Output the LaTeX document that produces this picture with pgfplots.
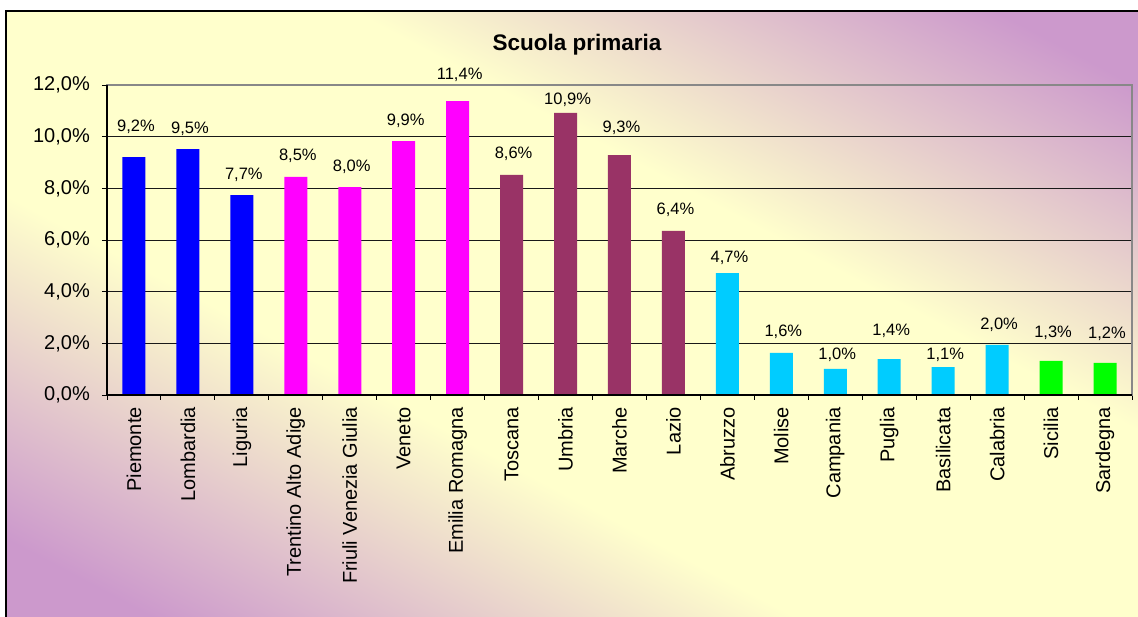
\documentclass[border=0pt]{standalone}
\usepackage{fontspec}
\setmainfont{Liberation Sans}
\usepackage{pgfplots}
\usepackage{pgfplotstable}
\pgfplotsset{compat=1.18}
\pgfkeys{/pgf/number format/assume math mode=true}
\definecolor{cblue}{HTML}{0000FF}
\definecolor{cmag}{HTML}{FF00FF}
\definecolor{cmar}{HTML}{993366}
\definecolor{ccyan}{HTML}{00CCFF}
\definecolor{cgreen}{HTML}{00FF00}
\definecolor{bgpurple}{HTML}{CC99CC}
\definecolor{bgyellow}{HTML}{FFFFCC}
\definecolor{frgray}{HTML}{888888}
\pgfdeclareverticalshading{bgshade}{100bp}{color(0bp)=(bgpurple); color(28.5bp)=(bgpurple); color(42.5bp)=(bgyellow); color(57.5bp)=(bgyellow); color(71.5bp)=(bgpurple); color(100bp)=(bgpurple)}

\pgfplotstableread{
x y
0 9.21
1 9.52
2 7.74
}\tblue
\pgfplotstableread{
x y
3 8.44
4 8.05
5 9.83
6 11.38
}\tmag
\pgfplotstableread{
x y
7 8.52
8 10.92
9 9.29
10 6.35
}\tmar
\pgfplotstableread{
x y
11 4.72
12 1.63
13 1.01
14 1.39
15 1.08
16 1.94
}\tcyan
\pgfplotstableread{
x y
17 1.32
18 1.24
}\tgreen
\pgfplotstableread{
x ly lab
0 10.20 9.2
1 10.13 9.5
2 8.35 7.7
3 9.06 8.5
4 8.67 8.0
5 10.43 9.9
6 12.20 11.4
7 9.15 8.6
8 11.23 10.9
9 10.16 9.3
10 7.00 6.4
11 5.12 4.7
12 2.26 1.6
13 1.38 1.0
14 2.32 1.4
15 1.38 1.1
16 2.54 2.0
17 2.23 1.3
18 2.17 1.2
}\tlabels

\begin{document}
\begin{tikzpicture}[x=1pt,y=1pt]
\useasboundingbox (0,0) rectangle (1138,616);
\clip (0,0) rectangle (1138,616);
\fill[white] (0,0) rectangle (1138,616);
\begin{scope}
\clip (6,-6) rectangle (1150,605);
\begin{scope}[transform canvas={shift={(578pt,300pt)}, rotate=-28.1}]
\shade[shading=bgshade] (-750,-542) rectangle (750,542);
\end{scope}
\end{scope}
\draw[black, line width=1.5pt] (6,-10) -- (6,605) -- (1150,605);
\node[anchor=base, font=\fontsize{22.5}{22.5}\selectfont\bfseries] at (577,565) {Scuola primaria};
\begin{axis}[
  at={(107pt,221pt)}, anchor=south west,
  scale only axis, width=1025pt, height=310pt,
  xmin=-0.5, xmax=18.5, ymin=0, ymax=12,
  xtick={-0.5,0.5,...,18.5}, xticklabels={},
  extra x ticks={0,1,...,18},
  extra x tick labels={Piemonte,Lombardia,Liguria,Trentino Alto Adige,Friuli Venezia Giulia,Veneto,Emilia Romagna,Toscana,Umbria,Marche,Lazio,Abruzzo,Molise,Campania,Puglia,Basilicata,Calabria,Sicilia,Sardegna},
  extra x tick style={major tick length=0pt, xticklabel style={rotate=90, anchor=east, font=\fontsize{20}{20}\selectfont, inner sep=0pt, xshift=-12pt}},
  xtick pos=bottom, ytick pos=left,
  ytick={0,2,...,12},
  yticklabel={\pgfmathprintnumber[fixed,fixed zerofill,precision=1,use comma]{\tick}\%},
  yticklabel style={font=\fontsize{20}{20}\selectfont, inner sep=0pt, xshift=-12pt},
  tick align=outside, major tick length=5pt,
  tick style={black, line width=0.9pt},
  ymajorgrids, grid style={black!90, line width=0.9pt},
  axis line style={draw=frgray, line width=1.6pt},
  clip=false,
]
\addplot[ybar, bar width=23pt, bar shift=0pt, fill=cblue, draw=none] table[x=x,y=y] {\tblue};
\addplot[ybar, bar width=23pt, bar shift=0pt, fill=cmag, draw=none] table[x=x,y=y] {\tmag};
\addplot[ybar, bar width=23pt, bar shift=0pt, fill=cmar, draw=none] table[x=x,y=y] {\tmar};
\addplot[ybar, bar width=23pt, bar shift=0pt, fill=ccyan, draw=none] table[x=x,y=y] {\tcyan};
\addplot[ybar, bar width=23pt, bar shift=0pt, fill=cgreen, draw=none] table[x=x,y=y] {\tgreen};
\addplot[only marks, mark=none, point meta=explicit,
  nodes near coords={\pgfmathprintnumber[fixed,fixed zerofill,precision=1,use comma]{\pgfplotspointmeta}\%},
  every node near coord/.append style={anchor=base, font=\fontsize{16.5}{16.5}\selectfont, text=black, inner sep=0pt, xshift=2pt}]
  table[x=x, y=ly, meta=lab] {\tlabels};
\draw[black, line width=1.2pt] (rel axis cs:0,1) -- (rel axis cs:0,0) -- (rel axis cs:1,0);
\end{axis}
\end{tikzpicture}
\end{document}
